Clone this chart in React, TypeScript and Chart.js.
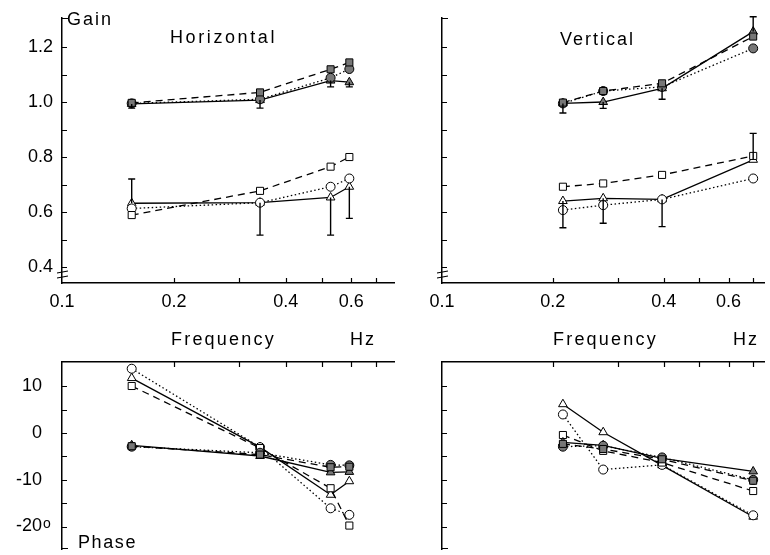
import React, { useEffect, useRef } from 'react';
import { Chart, registerables } from 'chart.js';
Chart.register(...registerables);

// ---------- data ----------
// stimulus frequencies (Hz)
const H_FREQ = [0.154, 0.341, 0.528, 0.593];
const V_FREQ = [0.213, 0.274, 0.396, 0.7];

// axis ticks
const X_LABEL_TICKS = [0.1, 0.2, 0.4, 0.6];
const X_MARK_TICKS = [0.2, 0.3, 0.4, 0.5, 0.6, 0.7];
const GAIN_LABEL_TICKS = [0.4, 0.6, 0.8, 1.0, 1.2];
const GAIN_MARK_TICKS = [0.4, 0.5, 0.6, 0.7, 0.8, 0.9, 1.0, 1.1, 1.2];
const PHASE_LABEL_TICKS = [10, 0, -10, -20];
const PHASE_MARK_TICKS = [10, 5, 0, -5, -10, -15, -20];

// Horizontal gain
const H_GAIN_UP_SQUARE = [0.997, 1.035, 1.119, 1.144];
const H_GAIN_UP_CIRCLE = [0.995, 1.01, 1.088, 1.12];
const H_GAIN_UP_TRIANGLE = [0.993, 1.007, 1.078, 1.072];
const H_GAIN_LO_SQUARE = [0.589, 0.677, 0.765, 0.8];
const H_GAIN_LO_CIRCLE = [0.613, 0.634, 0.692, 0.722];
const H_GAIN_LO_TRIANGLE = [0.632, 0.634, 0.653, 0.692];
const H_GAIN_UP_ERR = [0.978, 0.978, 1.055, 1.055];
const H_GAIN_LO_ERR = [0.72, 0.516, 0.516, 0.577];

// Vertical gain
const V_GAIN_UP_SQUARE = [0.998, 1.04, 1.068, 1.238];
const V_GAIN_UP_CIRCLE = [0.995, 1.04, 1.055, 1.195];
const V_GAIN_UP_TRIANGLE = [0.995, 1.0, 1.05, 1.256];
const V_GAIN_LO_SQUARE = [0.692, 0.704, 0.735, 0.804];
const V_GAIN_LO_CIRCLE = [0.607, 0.625, 0.646, 0.722];
const V_GAIN_LO_TRIANGLE = [0.64, 0.65, 0.646, 0.79];
const V_GAIN_UP_ERR = [0.96, 0.977, 1.01, 1.31];
const V_GAIN_LO_ERR = [0.543, 0.559, 0.547, 0.886];

// Horizontal phase (deg)
const H_PHASE_A_SQUARE = [10.1, -3.2, -11.8, -19.8];
const H_PHASE_A_CIRCLE = [13.8, -3.0, -16.1, -17.5];
const H_PHASE_A_TRIANGLE = [11.8, -3.0, -13.2, -10.3];
const H_PHASE_B_SQUARE = [-2.8, -4.6, -7.3, -7.2];
const H_PHASE_B_CIRCLE = [-2.9, -4.2, -6.8, -6.9];
const H_PHASE_B_TRIANGLE = [-2.6, -4.9, -8.4, -8.3];

// Vertical phase (deg)
const V_PHASE_A_SQUARE = [-0.4, -3.8, -6.3, -12.4];
const V_PHASE_A_CIRCLE = [4.0, -7.8, -6.8, -17.6];
const V_PHASE_A_TRIANGLE = [6.2, 0.2, -6.9, -17.9];
const V_PHASE_B_SQUARE = [-2.3, -3.4, -5.6, -10.2];
const V_PHASE_B_CIRCLE = [-2.9, -2.7, -5.2, -10.0];
const V_PHASE_B_TRIANGLE = [-2.0, -2.6, -5.4, -8.2];

// ---------- styling helpers ----------
const FONT = '"Liberation Sans", Arial, sans-serif';

type Shape = 'rect' | 'circle' | 'triangle';

function series(freqs: number[], vals: number[], shape: Shape, filled: boolean) {
  const dash = shape === 'rect' ? [7, 5] : shape === 'circle' ? [1.5, 2.5] : [];
  return {
    data: freqs.map((x, i) => ({ x, y: vals[i] })),
    showLine: true,
    borderColor: '#000',
    borderWidth: 1.3,
    borderDash: dash,
    pointStyle: shape,
    pointRadius: shape === 'circle' ? 4.5 : 5,
    pointBackgroundColor: filled ? '#777' : '#fff',
    pointBorderColor: '#000',
    pointBorderWidth: 1,
    clip: false,
  };
}

type Note = { text: string; x: number; y: number; size?: number; spacing?: number };

type PanelCfg = {
  left: number;
  top: number;
  width: number;
  height: number;
  padding: { left: number; top: number; right: number; bottom: number };
  xMax: number;
  xPos: 'top' | 'bottom';
  xLabels: boolean;
  xAxisHeight: number;
  yMin: number;
  yMax: number;
  yLabelTicks: number[];
  yMarkTicks: number[];
  yLabels: boolean;
  yPad: number;
  yFmt: (v: number) => string;
  datasets: any[];
  errors: { freqs: number[]; base: number[]; caps: number[] }[];
  notes: Note[];
  gainPanel: boolean;
  degree: boolean;
};

function zeroPad(s: any) {
  s.paddingTop = 0;
  s.paddingBottom = 0;
  s.paddingLeft = 0;
  s.paddingRight = 0;
}

function Panel({ cfg }: { cfg: PanelCfg }) {
  const ref = useRef<HTMLCanvasElement | null>(null);
  useEffect(() => {
    if (!ref.current) return;
    const decor = {
      id: 'decor',
      afterDraw(chart: any) {
        const ctx = chart.ctx;
        const xs = chart.scales.x;
        const ys = chart.scales.y;
        const a = chart.chartArea;
        ctx.save();
        ctx.strokeStyle = '#000';
        ctx.lineWidth = 1.2;
        ctx.setLineDash([]);
        ctx.beginPath();
        // x tick marks (inward)
        X_MARK_TICKS.forEach((v) => {
          const px = Math.round(xs.getPixelForValue(v)) + 0.5;
          if (cfg.xPos === 'bottom') {
            ctx.moveTo(px, a.bottom);
            ctx.lineTo(px, a.bottom - 5);
          } else {
            ctx.moveTo(px, a.top);
            ctx.lineTo(px, a.top + 5);
          }
        });
        // y tick marks (inward)
        cfg.yMarkTicks.forEach((v) => {
          const py = Math.round(ys.getPixelForValue(v)) + 0.5;
          ctx.moveTo(a.left, py);
          ctx.lineTo(a.left + 5, py);
        });
        if (cfg.gainPanel) {
          // bracket at top of axis
          ctx.moveTo(a.left, a.top + 0.5);
          ctx.lineTo(a.left + 6, a.top + 0.5);
          // axis break
          ctx.moveTo(a.left - 5, a.bottom - 10);
          ctx.lineTo(a.left + 6, a.bottom - 12);
          ctx.moveTo(a.left - 5, a.bottom - 5);
          ctx.lineTo(a.left + 6, a.bottom - 7);
        } else {
          ctx.moveTo(a.left, a.bottom - 0.5);
          ctx.lineTo(a.left + 6, a.bottom - 0.5);
        }
        ctx.stroke();

        // error bars
        ctx.lineWidth = 1.4;
        ctx.beginPath();
        cfg.errors.forEach((e) => {
          e.freqs.forEach((f, i) => {
            const px = xs.getPixelForValue(f);
            const y0 = ys.getPixelForValue(e.base[i]);
            const y1 = ys.getPixelForValue(e.caps[i]);
            ctx.moveTo(px, y0);
            ctx.lineTo(px, y1);
            ctx.moveTo(px - 3.5, y1);
            ctx.lineTo(px + 3.5, y1);
          });
        });
        ctx.stroke();

        // text notes
        ctx.fillStyle = '#000';
        ctx.textBaseline = 'alphabetic';
        ctx.textAlign = 'left';
        cfg.notes.forEach((n) => {
          ctx.font = `${n.size || 18}px ${FONT}`;
          (ctx as any).letterSpacing = `${n.spacing ?? 2}px`;
          ctx.fillText(n.text, n.x, n.y);
        });
        (ctx as any).letterSpacing = '0px';
        if (cfg.degree) {
          ctx.font = `14px ${FONT}`;
          ctx.fillText('o', 43, ys.getPixelForValue(-20) + 1);
        }
        ctx.restore();
      },
    };

    const chart = new Chart(ref.current, {
      type: 'scatter',
      data: { datasets: cfg.datasets },
      options: {
        animation: false,
        responsive: false,
        maintainAspectRatio: false,
        devicePixelRatio: 1,
        layout: { padding: cfg.padding },
        plugins: {
          legend: { display: false },
          tooltip: { enabled: false },
          title: { display: false },
        },
        scales: {
          x: {
            type: 'logarithmic',
            position: cfg.xPos,
            min: 0.1,
            max: cfg.xMax,
            grid: { display: false, drawTicks: false },
            border: { display: true, color: '#000', width: 1.5 },
            ticks: {
              display: cfg.xLabels,
              autoSkip: false,
              maxRotation: 0,
              padding: 8,
              color: '#000',
              font: { family: FONT, size: 18 },
              callback: (v: any) => Number(v).toFixed(1),
            },
            afterBuildTicks: (s: any) => {
              s.ticks = X_LABEL_TICKS.map((value) => ({ value }));
            },
            afterFit: (s: any) => {
              s.height = cfg.xAxisHeight;
              zeroPad(s);
            },
          },
          y: {
            type: 'linear',
            min: cfg.yMin,
            max: cfg.yMax,
            grid: { display: false, drawTicks: false },
            border: { display: true, color: '#000', width: 1.5 },
            ticks: {
              display: cfg.yLabels,
              autoSkip: false,
              padding: cfg.yPad,
              color: '#000',
              font: { family: FONT, size: 18 },
              callback: (v: any) => cfg.yFmt(Number(v)),
            },
            afterBuildTicks: (s: any) => {
              s.ticks = cfg.yLabelTicks.map((value) => ({ value }));
            },
            afterFit: (s: any) => {
              s.width = 62;
              zeroPad(s);
            },
          },
        },
      },
      plugins: [decor],
    } as any);
    return () => chart.destroy();
  }, [cfg]);

  return (
    <canvas
      ref={ref}
      width={cfg.width}
      height={cfg.height}
      style={{
        position: 'absolute',
        left: cfg.left,
        top: cfg.top,
        width: cfg.width,
        height: cfg.height,
      }}
    />
  );
}

const gainFmt = (v: number) => v.toFixed(1);
const phaseFmt = (v: number) => String(v);

const PANELS: PanelCfg[] = [
  {
    left: 0, top: 0, width: 400, height: 355,
    padding: { left: 0, top: 18, right: 3, bottom: 0 },
    xMax: 0.782, xPos: 'bottom', xLabels: true, xAxisHeight: 72,
    yMin: 0.342, yMax: 1.3055,
    yLabelTicks: GAIN_LABEL_TICKS, yMarkTicks: GAIN_MARK_TICKS,
    yLabels: true, yPad: 9, yFmt: gainFmt,
    datasets: [
      series(H_FREQ, H_GAIN_UP_SQUARE, 'rect', true),
      series(H_FREQ, H_GAIN_UP_CIRCLE, 'circle', true),
      series(H_FREQ, H_GAIN_UP_TRIANGLE, 'triangle', true),
      series(H_FREQ, H_GAIN_LO_SQUARE, 'rect', false),
      series(H_FREQ, H_GAIN_LO_CIRCLE, 'circle', false),
      series(H_FREQ, H_GAIN_LO_TRIANGLE, 'triangle', false),
    ],
    errors: [
      { freqs: H_FREQ, base: H_GAIN_UP_TRIANGLE, caps: H_GAIN_UP_ERR },
      { freqs: H_FREQ, base: H_GAIN_LO_TRIANGLE, caps: H_GAIN_LO_ERR },
    ],
    notes: [
      { text: 'Gain', x: 67, y: 25 },
      { text: 'Horizontal', x: 170, y: 43, spacing: 2.6 },
      { text: 'Frequency', x: 171, y: 345, spacing: 2.2 },
      { text: 'Hz', x: 350, y: 345 },
    ],
    gainPanel: true, degree: false,
  },
  {
    left: 380, top: 0, width: 390, height: 355,
    padding: { left: 0, top: 18, right: 0, bottom: 0 },
    xMax: 0.749, xPos: 'bottom', xLabels: true, xAxisHeight: 72,
    yMin: 0.342, yMax: 1.3055,
    yLabelTicks: GAIN_LABEL_TICKS, yMarkTicks: GAIN_MARK_TICKS,
    yLabels: false, yPad: 9, yFmt: gainFmt,
    datasets: [
      series(V_FREQ, V_GAIN_UP_SQUARE, 'rect', true),
      series(V_FREQ, V_GAIN_UP_CIRCLE, 'circle', true),
      series(V_FREQ, V_GAIN_UP_TRIANGLE, 'triangle', true),
      series(V_FREQ, V_GAIN_LO_SQUARE, 'rect', false),
      series(V_FREQ, V_GAIN_LO_CIRCLE, 'circle', false),
      series(V_FREQ, V_GAIN_LO_TRIANGLE, 'triangle', false),
    ],
    errors: [
      { freqs: V_FREQ, base: V_GAIN_UP_TRIANGLE, caps: V_GAIN_UP_ERR },
      { freqs: V_FREQ, base: V_GAIN_LO_TRIANGLE, caps: V_GAIN_LO_ERR },
    ],
    notes: [
      { text: 'Vertical', x: 180, y: 45 },
      { text: 'Frequency', x: 173, y: 345, spacing: 2.2 },
      { text: 'Hz', x: 353, y: 345 },
    ],
    gainPanel: true, degree: false,
  },
  {
    left: 0, top: 350, width: 400, height: 205,
    padding: { left: 0, top: 12, right: 3, bottom: 2 },
    xMax: 0.782, xPos: 'top', xLabels: false, xAxisHeight: 0,
    yMin: -24.82, yMax: 15.24,
    yLabelTicks: PHASE_LABEL_TICKS, yMarkTicks: PHASE_MARK_TICKS,
    yLabels: true, yPad: 20, yFmt: phaseFmt,
    datasets: [
      series(H_FREQ, H_PHASE_B_SQUARE, 'rect', true),
      series(H_FREQ, H_PHASE_B_CIRCLE, 'circle', true),
      series(H_FREQ, H_PHASE_B_TRIANGLE, 'triangle', true),
      series(H_FREQ, H_PHASE_A_SQUARE, 'rect', false),
      series(H_FREQ, H_PHASE_A_CIRCLE, 'circle', false),
      series(H_FREQ, H_PHASE_A_TRIANGLE, 'triangle', false),
    ],
    errors: [],
    notes: [{ text: 'Phase', x: 78, y: 198, spacing: 1.6 }],
    gainPanel: false, degree: true,
  },
  {
    left: 380, top: 350, width: 390, height: 205,
    padding: { left: 0, top: 12, right: 0, bottom: 2 },
    xMax: 0.749, xPos: 'top', xLabels: false, xAxisHeight: 0,
    yMin: -24.82, yMax: 15.24,
    yLabelTicks: PHASE_LABEL_TICKS, yMarkTicks: PHASE_MARK_TICKS,
    yLabels: false, yPad: 20, yFmt: phaseFmt,
    datasets: [
      series(V_FREQ, V_PHASE_B_SQUARE, 'rect', true),
      series(V_FREQ, V_PHASE_B_CIRCLE, 'circle', true),
      series(V_FREQ, V_PHASE_B_TRIANGLE, 'triangle', true),
      series(V_FREQ, V_PHASE_A_SQUARE, 'rect', false),
      series(V_FREQ, V_PHASE_A_CIRCLE, 'circle', false),
      series(V_FREQ, V_PHASE_A_TRIANGLE, 'triangle', false),
    ],
    errors: [],
    notes: [],
    gainPanel: false, degree: false,
  },
];

export default function App() {
  return (
    <div
      style={{
        position: 'absolute',
        left: 0,
        top: 0,
        width: 770,
        height: 555,
        background: '#fff',
        overflow: 'hidden',
      }}
    >
      {PANELS.map((p, i) => (
        <Panel key={i} cfg={p} />
      ))}
    </div>
  );
}
